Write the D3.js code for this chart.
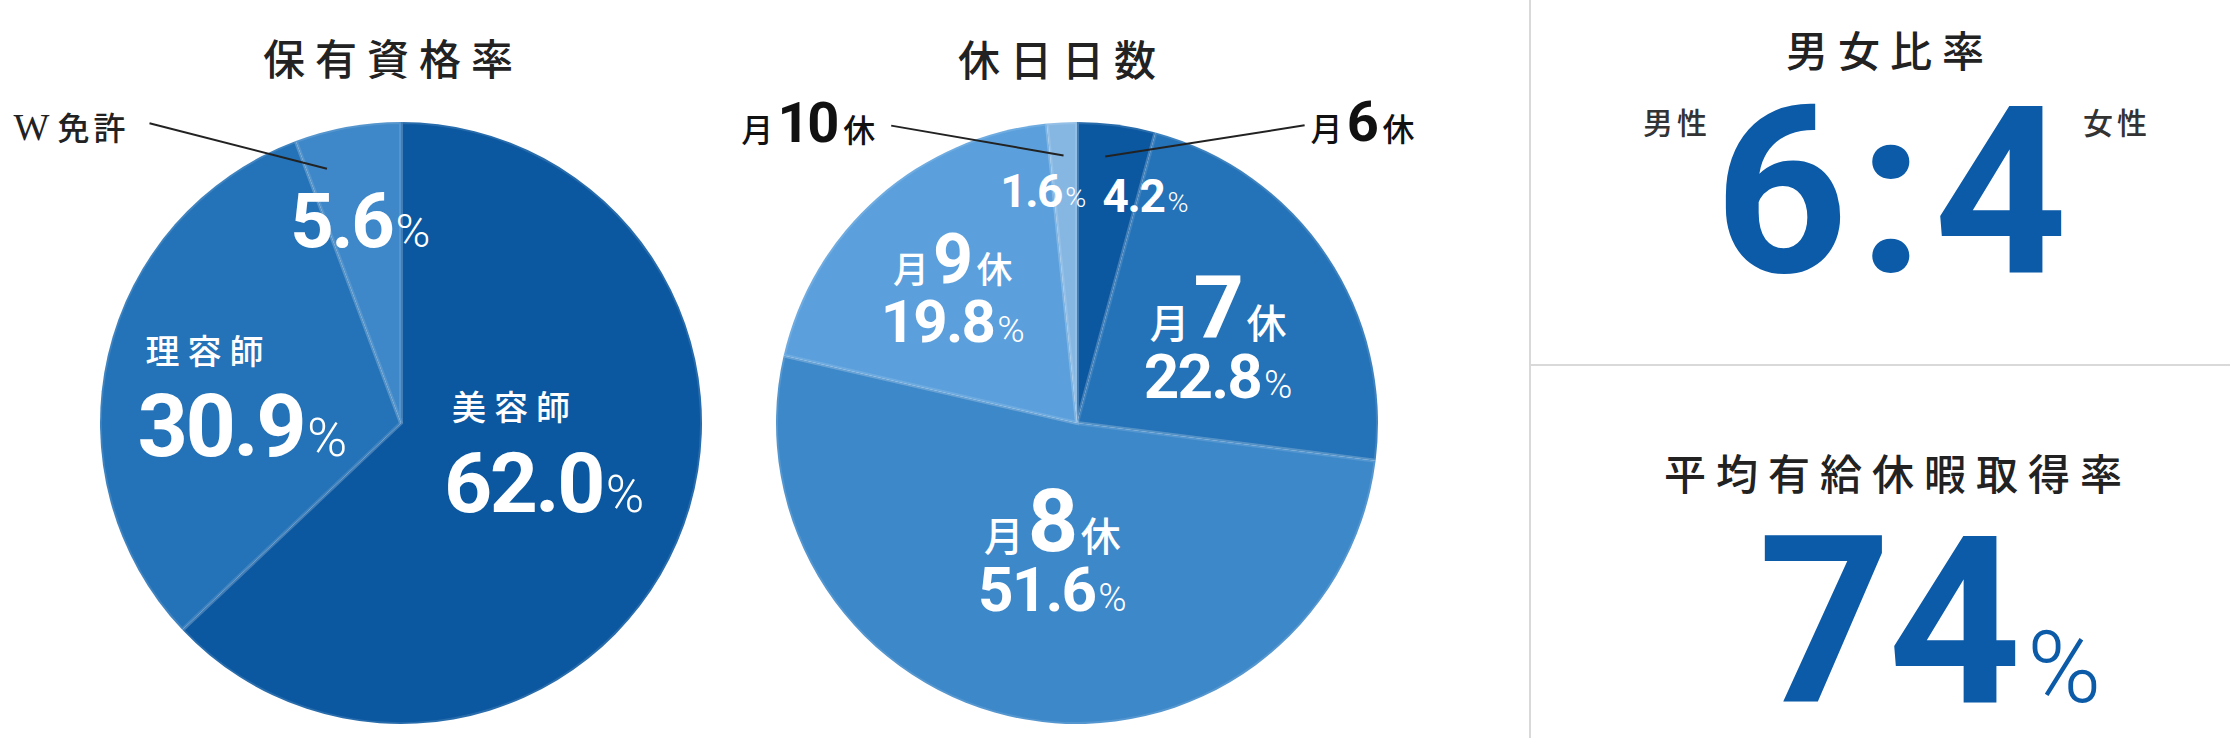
<!DOCTYPE html>
<html>
<head>
<meta charset="utf-8">
<script src="https://cdn.jsdelivr.net/npm/d3@7"></script>
<style>
  html, body { margin: 0; padding: 0; background: #fff; }
  svg { display: block; }
  .jp { font-family: "Noto Sans CJK JP", sans-serif; }
  .num { font-family: Roboto, "DejaVu Sans", sans-serif; }
</style>
</head>
<body>
<div id="chart"></div>
<script>
// 保有資格率
const qualLabels = ["美容師", "理容師", "W免許"];
const qualValues = [62.0, 30.9, 5.6];

// 休日日数 (月○休)
const holidayDays = ["6", "7", "8", "9", "10"];
const holidayValues = [4.2, 22.8, 51.6, 19.8, 1.6];

// 男女比率
const genderLabels = ["男性", "女性"];
const genderRatio = [6, 4];

// 平均有給休暇取得率
const paidLeaveRate = [74];

const titles = ["保有資格率", "休日日数", "男女比率", "平均有給休暇取得率"];

const qualColors = ["#0b58a1", "#2472b7", "#3e87c8"];
const holidayColors = ["#0b58a1", "#2472b7", "#3d88c9", "#5ba0dc", "#86b7e3"];
const blue = "#0b5ba9";

const W = 2230, H = 738;
const R = 301;
const fmt = d3.format(".1f");
const rad = d => d * Math.PI / 180;

const svg = d3.select("#chart").append("svg")
    .attr("width", W)
    .attr("height", H);

// 極座標 → xy (角度は12時から時計回り)
function polar(cx, cy, angle, r) {
    return [cx + r * Math.sin(angle), cy - r * Math.cos(angle)];
}

function drawPie(cx, cy, values, colors) {
    const pie = d3.pie().sort(null).value(d => d);
    const arc = d3.arc().innerRadius(0).outerRadius(R);
    const arcs = pie(values);
    const g = svg.append("g").attr("transform", `translate(${cx},${cy})`);
    g.selectAll("path")
        .data(arcs)
        .join("path")
        .attr("d", arc)
        .attr("fill", (d, i) => colors[i])
        .attr("stroke", "#fff")
        .attr("stroke-opacity", 0.12)
        .attr("stroke-width", 4);
    return arcs;
}

function title(text, x, y) {
    svg.append("text")
        .attr("class", "jp")
        .attr("x", x)
        .attr("y", y)
        .attr("text-anchor", "middle")
        .attr("font-size", 42)
        .attr("font-weight", 500)
        .attr("letter-spacing", 10)
        .attr("fill", "#222")
        .text(text);
}

// 数値 + 細い%
function valueText(sel, v, size) {
    sel.append("tspan")
        .attr("class", "num")
        .attr("font-weight", 700)
        .attr("font-size", size)
        .attr("letter-spacing", -size * 0.03)
        .text(fmt(v));
    sel.append("tspan")
        .attr("class", "num")
        .attr("font-weight", 300)
        .attr("font-size", size * 0.62)
        .attr("dx", 3)
        .text("%");
}

// ---------- 保有資格率 ----------
const p1 = {cx: 401, cy: 423};
title(titles[0], 393, 75);
const qualArcs = drawPie(p1.cx, p1.cy, qualValues, qualColors);

// ラベル位置 (中心角からのずれ, 半径比, 数値サイズ)
const qualLayout = [
    {da: -12, r: 0.48, size: 84, name: true},
    {da: -3, r: 0.54, size: 88, name: true},
    {da: -1.5, r: 0.69, size: 76, name: false}
];

qualArcs.forEach((d, i) => {
    const L = qualLayout[i];
    const mid = (d.startAngle + d.endAngle) / 2 + rad(L.da);
    const [x, y] = polar(p1.cx, p1.cy, mid, R * L.r);
    const g = svg.append("g");
    const val = g.append("text")
        .attr("fill", "#fff")
        .attr("y", L.name ? y + 61 : y + 27);
    valueText(val, d.data, L.size);
    const w = val.node().getComputedTextLength();
    val.attr("x", x - w / 2);
    if (L.name) {
        g.append("text")
            .attr("class", "jp")
            .attr("x", x - w / 2 + 8)
            .attr("y", y - 31)
            .attr("font-size", 34)
            .attr("font-weight", 500)
            .attr("letter-spacing", 8)
            .attr("fill", "#fff")
            .text(qualLabels[i]);
    }
});

// W免許 の引き出し線
{
    const d = qualArcs[2];
    const a = (d.startAngle + d.endAngle) / 2 - rad(6);
    const [x1, y1] = polar(p1.cx, p1.cy, a, R * 0.88);
    const [x2, y2] = polar(p1.cx, p1.cy, rad(320), R * 1.3);
    svg.append("line")
        .attr("x1", x1).attr("y1", y1)
        .attr("x2", x2).attr("y2", y2)
        .attr("stroke", "#222")
        .attr("stroke-width", 2);
    svg.append("text")
        .attr("x", x2 - 20)
        .attr("y", y2 + 17)
        .attr("text-anchor", "end")
        .attr("fill", "#222")
        .call(t => {
            t.append("tspan").attr("font-family", "Liberation Serif, serif")
                .attr("font-size", 38).text("W");
            t.append("tspan").attr("class", "jp").attr("font-size", 32).attr("font-weight", 500)
                .attr("dx", 8).attr("letter-spacing", 4).text(qualLabels[2].slice(1));
        });
}

// ---------- 休日日数 ----------
const p2 = {cx: 1077, cy: 423};
title(titles[1], 1062, 76);
const holArcs = drawPie(p2.cx, p2.cy, holidayValues, holidayColors);

const holLayout = [
    {da: 9.2, r: 0.79, size: 46, name: false},
    {da: 2.3, r: 0.55, size: 62, name: true, big: 88, jp: 40},
    {da: 0.9, r: 0.43, size: 62, name: true, big: 88, jp: 40},
    {da: -1.2, r: 0.61, size: 60, name: true, big: 70, jp: 36},
    {da: -5.4, r: 0.78, size: 46, name: false}
];

function dayLabel(sel, day, big, jp) {
    sel.append("tspan").attr("class", "jp").attr("font-size", jp).attr("font-weight", 500).text("月");
    sel.append("tspan").attr("class", "num").attr("font-size", big).attr("font-weight", 700)
        .attr("dx", 4).attr("letter-spacing", -big * 0.04).text(day);
    sel.append("tspan").attr("class", "jp").attr("font-size", jp).attr("font-weight", 500)
        .attr("dx", 6).text("休");
}

holArcs.forEach((d, i) => {
    const L = holLayout[i];
    const mid = (d.startAngle + d.endAngle) / 2 + rad(L.da);
    const [x, y] = polar(p2.cx, p2.cy, mid, R * L.r);
    const g = svg.append("g");
    if (L.name) {
        const h1 = L.big * 0.711, h2 = L.size * 0.711, gap = 16;
        const T = h1 + gap + h2;
        g.append("text")
            .attr("x", x).attr("y", y - T / 2 + h1)
            .attr("text-anchor", "middle")
            .attr("fill", "#fff")
            .call(dayLabel, holidayDays[i], L.big, L.jp);
        const val = g.append("text")
            .attr("x", x).attr("y", y + T / 2)
            .attr("text-anchor", "middle")
            .attr("fill", "#fff");
        valueText(val, d.data, L.size);
    } else {
        const val = g.append("text")
            .attr("x", x).attr("y", y + L.size * 0.711 / 2)
            .attr("text-anchor", "middle")
            .attr("fill", "#fff");
        valueText(val, d.data, L.size);
    }
});

// 月6休・月10休 の引き出し線
[[0, 37.4, "start"], [4, 328, "end"]].forEach(([i, outA, anchor]) => {
    const d = holArcs[i];
    const a = (d.startAngle + d.endAngle) / 2 + (i === 0 ? -rad(1.5) : 0);
    const [x1, y1] = polar(p2.cx, p2.cy, a, R * 0.89);
    const [x2, y2] = polar(p2.cx, p2.cy, rad(outA), R * (i === 0 ? 1.245 : 1.165));
    svg.append("line")
        .attr("x1", x1).attr("y1", y1)
        .attr("x2", x2).attr("y2", y2)
        .attr("stroke", "#222")
        .attr("stroke-width", 2);
    svg.append("text")
        .attr("x", anchor === "start" ? x2 + 6 : x2 - 16)
        .attr("y", y2 + 16)
        .attr("text-anchor", anchor)
        .attr("fill", "#111")
        .call(dayLabel, holidayDays[i], 56, 32);
});

// ---------- 右側パネル ----------
svg.append("line")
    .attr("x1", 1530).attr("x2", 1530)
    .attr("y1", 0).attr("y2", H)
    .attr("stroke", "#d9d9d9").attr("stroke-width", 2);
svg.append("line")
    .attr("x1", 1530).attr("x2", W)
    .attr("y1", 365).attr("y2", 365)
    .attr("stroke", "#d9d9d9").attr("stroke-width", 2);

title(titles[2], 1890, 67);

svg.selectAll(".gender")
    .data(genderLabels)
    .join("text")
    .attr("class", "jp gender")
    .attr("x", (d, i) => i === 0 ? 1643 : 2083)
    .attr("y", 134)
    .attr("font-size", 30)
    .attr("font-weight", 500)
    .attr("letter-spacing", 4)
    .attr("fill", "#333")
    .text(d => d);

svg.append("text")
    .attr("class", "num")
    .attr("x", 1896)
    .attr("y", 272)
    .attr("text-anchor", "middle")
    .attr("font-size", 233)
    .attr("font-weight", 700)
    .attr("letter-spacing", 10)
    .attr("fill", blue)
    .text(genderRatio.join(":"));

title(titles[3], 1898, 490);

svg.append("text")
    .attr("x", 1758)
    .attr("y", 702)
    .attr("fill", blue)
    .call(t => {
        t.append("tspan").attr("class", "num").attr("font-size", 233).attr("font-weight", 700)
            .attr("letter-spacing", -4).text(paidLeaveRate[0]);
        t.append("tspan").attr("class", "num").attr("font-size", 100).attr("font-weight", 300)
            .attr("dx", 10).text("%");
    });
</script>
</body>
</html>
